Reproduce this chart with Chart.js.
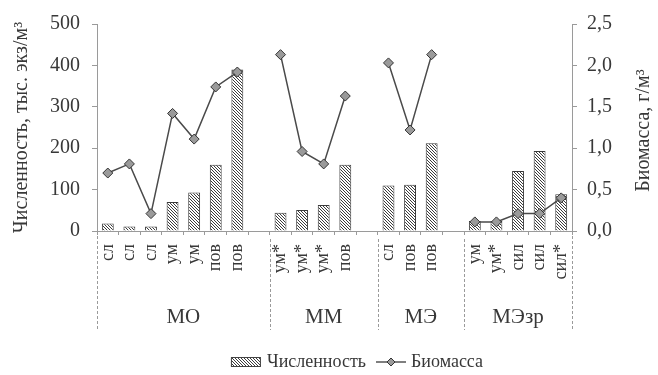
<!DOCTYPE html>
<html>
<head>
<meta charset="utf-8">
<script src="https://cdn.jsdelivr.net/npm/chart.js@4.4.1/dist/chart.umd.min.js"></script>
<style>
  html, body { margin: 0; padding: 0; background: #fff; }
  #wrap { width: 658px; height: 375px; }
</style>
</head>
<body>
<div id="wrap"><canvas id="c" width="658" height="375"></canvas></div>
<script>
// Sampling sites: empty slots separate the station groups
const categories = ['сл','сл','сл','ум','ум','пов','пов','',
                    'ум*','ум*','ум*','пов','',
                    'сл','пов','пов','',
                    'ум','ум*','сил','сил','сил*'];
// Abundance, thousand ind./m3
const abundance = [18, 11, 11, 70, 93, 160, 390, null,
                   44, 51, 63, 160, null,
                   110, 112, 212, null,
                   24, 24, 145, 193, 89];
// Biomass, g/m3
const biomass = [0.70, 0.81, 0.21, 1.42, 1.11, 1.74, 1.92, null,
                 2.13, 0.96, 0.81, 1.63, null,
                 2.03, 1.22, 2.13, null,
                 0.11, 0.11, 0.21, 0.21, 0.40];
const groups = ['МО', 'ММ', 'МЭ', 'МЭзр'];
const groupStarts = [0, 8, 13, 17];
const leftTicks = ['0', '100', '200', '300', '400', '500'];
const rightTicks = ['0,0', '0,5', '1,0', '1,5', '2,0', '2,5'];

const SERIF = "'Liberation Serif', 'Times New Roman', serif";
const INK = '#383838';
const AXIS = '#9a9a9a';

function hatchPattern() {
  const c = document.createElement('canvas');
  c.width = 3; c.height = 3;
  const g = c.getContext('2d');
  g.fillStyle = '#fff';
  g.fillRect(0, 0, 3, 3);
  g.strokeStyle = '#3c3c3c';
  g.lineWidth = 1;
  g.beginPath();
  g.moveTo(-1, -1); g.lineTo(4, 4);
  g.moveTo(2, -1); g.lineTo(4, 1);
  g.moveTo(-1, 2); g.lineTo(1, 4);
  g.stroke();
  return document.createElement('canvas').getContext('2d').createPattern(c, 'repeat');
}
const hatch = hatchPattern();

// Group separators, group names, rotated axis titles and the legend
const decor = {
  id: 'decor',
  afterDraw(chart) {
    const { ctx, chartArea: a, scales: { x } } = chart;
    const step = x.getPixelForValue(1) - x.getPixelForValue(0);
    const edge = i => x.getPixelForValue(i) - step / 2;
    const lowY = 330;
    ctx.save();
    ctx.strokeStyle = AXIS;
    ctx.lineWidth = 1;
    ctx.setLineDash([3, 2]);
    const seg = (x0, y0, x1, y1) => { ctx.beginPath(); ctx.moveTo(x0, y0); ctx.lineTo(x1, y1); ctx.stroke(); };
    seg(a.left + 0.5, a.bottom, a.left + 0.5, lowY);
    seg(a.right + 0.5, a.bottom, a.right + 0.5, lowY);
    groupStarts.slice(1).forEach(i => {
      const px = Math.round(edge(i)) + 0.5;
      seg(px, a.bottom + 8, px, lowY);
    });
    ctx.setLineDash([]);

    // group names
    ctx.fillStyle = INK;
    ctx.font = '21px ' + SERIF;
    ctx.textAlign = 'center';
    ctx.textBaseline = 'middle';
    groups.forEach((g, k) => {
      const l = k === 0 ? a.left : edge(groupStarts[k]);
      const r = k < groups.length - 1 ? edge(groupStarts[k + 1]) : a.right;
      ctx.fillText(g, (l + r) / 2, 317);
    });

    // axis titles, both reading upward
    ctx.font = '20px ' + SERIF;
    const title = (t, cx, cy) => {
      ctx.save();
      ctx.translate(cx, cy);
      ctx.rotate(-Math.PI / 2);
      ctx.fillText(t, 0, 0);
      ctx.restore();
    };
    title('Численность, тыс. экз/м³', 22, (a.top + a.bottom) / 2);
    title('Биомасса, г/м³', 644, (a.top + a.bottom) / 2 + 3);

    // legend
    ctx.font = '18px ' + SERIF;
    ctx.textAlign = 'left';
    const ly = 362;
    const t1 = 'Численность', t2 = 'Биомасса';
    const boxW = 30, gap = 6, lineW = 30;
    const total = boxW + gap + ctx.measureText(t1).width + 10 + lineW + 5 + ctx.measureText(t2).width;
    let lx = 357 - total / 2;
    ctx.fillStyle = hatch;
    ctx.fillRect(lx, ly - 5, boxW, 10);
    ctx.strokeStyle = '#444';
    ctx.strokeRect(lx + 0.5, ly - 4.5, boxW - 1, 9);
    lx += boxW + gap;
    ctx.fillStyle = INK;
    ctx.fillText(t1, lx, ly);
    lx += ctx.measureText(t1).width + 10;
    ctx.strokeStyle = '#555';
    ctx.lineWidth = 1.5;
    seg(lx, ly, lx + lineW, ly);
    ctx.fillStyle = '#9a9a9a';
    ctx.strokeStyle = '#333';
    ctx.lineWidth = 1;
    ctx.beginPath();
    const mx = lx + lineW / 2, r = 4;
    ctx.moveTo(mx, ly - r); ctx.lineTo(mx + r, ly); ctx.lineTo(mx, ly + r); ctx.lineTo(mx - r, ly); ctx.closePath();
    ctx.fill(); ctx.stroke();
    lx += lineW + 5;
    ctx.fillStyle = INK;
    ctx.fillText(t2, lx, ly);
    ctx.restore();
  }
};

new Chart(document.getElementById('c'), {
  data: {
    labels: categories,
    datasets: [
      {
        type: 'line',
        label: 'Биомасса',
        data: biomass,
        yAxisID: 'y1',
        order: 0,
        borderColor: '#4a4a4a',
        borderWidth: 1.5,
        spanGaps: false,
        tension: 0,
        pointStyle: 'rectRot',
        pointRadius: 5,
        pointBackgroundColor: '#9a9a9a',
        pointBorderColor: '#333',
        pointBorderWidth: 1
      },
      {
        type: 'bar',
        label: 'Численность',
        data: abundance,
        yAxisID: 'y',
        order: 1,
        backgroundColor: hatch,
        borderColor: '#3c3c3c',
        borderWidth: 1,
        categoryPercentage: 1,
        barPercentage: 0.55
      }
    ]
  },
  options: {
    responsive: false,
    animation: false,
    layout: { padding: { top: 19, left: 0, right: 0, bottom: 0 } },
    plugins: { legend: { display: false }, tooltip: { enabled: false } },
    scales: {
      x: {
        type: 'category',
        offset: true,
        grid: { drawOnChartArea: false, drawTicks: true, tickLength: 4, color: AXIS, offset: true },
        border: { display: true, color: AXIS, dash: [3, 2] },
        ticks: {
          autoSkip: false, minRotation: 90, maxRotation: 90, padding: 9,
          color: INK, font: { family: SERIF, size: 18 }
        },
        afterFit(s) { s.height = 144; }
      },
      y: {
        position: 'left',
        min: 0, max: 500,
        grid: { drawOnChartArea: false, tickLength: 5, color: AXIS },
        border: { display: true, color: AXIS, dash: [3, 2] },
        ticks: {
          stepSize: 100, padding: 12, color: INK, font: { family: SERIF, size: 20 },
          callback: (v, i) => leftTicks[i]
        },
        afterFit(s) { s.width = 97; }
      },
      y1: {
        position: 'right',
        min: 0, max: 2.5,
        grid: { drawOnChartArea: false, tickLength: 5, color: AXIS },
        border: { display: true, color: AXIS, dash: [3, 2] },
        ticks: {
          stepSize: 0.5, padding: 10, color: INK, font: { family: SERIF, size: 20 },
          callback: (v, i) => rightTicks[i]
        },
        afterFit(s) { s.width = 86; }
      }
    }
  },
  plugins: [decor]
});
</script>
</body>
</html>
